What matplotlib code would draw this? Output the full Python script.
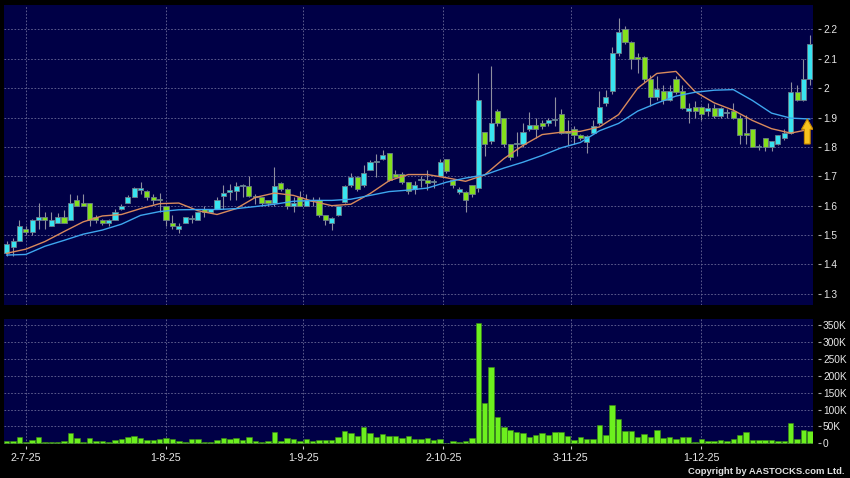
import numpy as np
import matplotlib
matplotlib.use("Agg")
import matplotlib.pyplot as plt
from matplotlib.patches import FancyArrow

# daily candles, late Jun 2025 -> late Dec 2025
opens = [1.44, 1.46, 1.48, 1.52, 1.51, 1.55, 1.56, 1.53, 1.54, 1.56,
         1.55, 1.62, 1.61, 1.61, 1.56, 1.55, 1.54, 1.55, 1.59, 1.61,
         1.63, 1.655, 1.65, 1.63, 1.622, 1.60, 1.54, 1.52, 1.54, 1.555,
         1.55, 1.59, 1.58, 1.59, 1.632, 1.648, 1.65, 1.668, 1.667, 1.632,
         1.63, 1.62, 1.61, 1.677, 1.658, 1.60, 1.63, 1.60, 1.62, 1.618,
         1.568, 1.54, 1.57, 1.612, 1.669, 1.698, 1.669, 1.72, 1.749, 1.76,
         1.78, 1.709, 1.709, 1.68, 1.658, 1.686, 1.686, 1.68, 1.70, 1.758,
         1.686, 1.647, 1.647, 1.669, 1.66, 1.85, 1.82, 1.922, 1.90, 1.809,
         1.81, 1.809, 1.861, 1.873, 1.881, 1.881, 1.892, 1.911, 1.85, 1.86,
         1.84, 1.818, 1.849, 1.88, 1.949, 1.99, 2.118, 2.20, 2.158, 2.107,
         2.107, 2.03, 1.97, 1.99, 1.96, 2.03, 1.99, 1.923, 1.937, 1.937,
         1.923, 1.932, 1.904, 1.915, 1.921, 1.90, 1.849, 1.86, 1.80, 1.83,
         1.80, 1.81, 1.83, 1.849, 1.988, 1.96, 2.03]
highs = [1.48, 1.49, 1.55, 1.53, 1.555, 1.61, 1.58, 1.58, 1.575, 1.585,
         1.64, 1.635, 1.64, 1.61, 1.57, 1.555, 1.555, 1.59, 1.605, 1.635,
         1.665, 1.68, 1.655, 1.64, 1.643, 1.60, 1.57, 1.54, 1.56, 1.57,
         1.58, 1.60, 1.59, 1.63, 1.67, 1.675, 1.68, 1.675, 1.70, 1.64,
         1.63, 1.62, 1.73, 1.68, 1.66, 1.63, 1.65, 1.64, 1.63, 1.63,
         1.57, 1.56, 1.60, 1.67, 1.71, 1.70, 1.74, 1.755, 1.777, 1.79,
         1.78, 1.72, 1.715, 1.68, 1.685, 1.70, 1.72, 1.69, 1.76, 1.758,
         1.69, 1.665, 1.65, 1.67, 2.05, 1.85, 2.074, 1.93, 1.90, 1.81,
         1.85, 1.88, 1.92, 1.90, 1.89, 1.90, 1.97, 1.93, 1.89, 1.87,
         1.845, 1.84, 1.89, 1.99, 1.995, 2.14, 2.24, 2.21, 2.16, 2.12,
         2.11, 2.045, 2.04, 2.01, 2.01, 2.04, 2.01, 1.95, 1.955, 1.94,
         1.95, 1.945, 1.935, 1.93, 1.95, 1.91, 1.91, 1.86, 1.81, 1.83,
         1.82, 1.84, 1.86, 2.02, 2.01, 2.10, 2.18]
lows = [1.43, 1.43, 1.48, 1.50, 1.50, 1.52, 1.52, 1.53, 1.54, 1.54,
        1.55, 1.60, 1.60, 1.53, 1.54, 1.535, 1.53, 1.55, 1.585, 1.61,
        1.63, 1.64, 1.62, 1.605, 1.58, 1.53, 1.52, 1.507, 1.54, 1.54,
        1.55, 1.56, 1.575, 1.59, 1.59, 1.62, 1.62, 1.63, 1.63, 1.605,
        1.60, 1.60, 1.60, 1.65, 1.59, 1.58, 1.60, 1.60, 1.60, 1.56,
        1.535, 1.518, 1.565, 1.61, 1.665, 1.65, 1.665, 1.72, 1.698, 1.755,
        1.685, 1.695, 1.675, 1.64, 1.64, 1.665, 1.655, 1.66, 1.70, 1.71,
        1.66, 1.64, 1.578, 1.63, 1.645, 1.77, 1.81, 1.87, 1.80, 1.755,
        1.77, 1.80, 1.855, 1.83, 1.86, 1.87, 1.87, 1.845, 1.807, 1.81,
        1.825, 1.78, 1.845, 1.875, 1.94, 1.98, 2.11, 2.15, 2.065, 2.05,
        2.02, 1.94, 1.96, 1.945, 1.955, 1.98, 1.93, 1.88, 1.90, 1.89,
        1.905, 1.90, 1.90, 1.90, 1.895, 1.81, 1.81, 1.80, 1.79, 1.785,
        1.785, 1.805, 1.825, 1.845, 1.955, 1.955, 2.01]
closes = [1.47, 1.48, 1.53, 1.51, 1.55, 1.56, 1.55, 1.55, 1.56, 1.54,
          1.61, 1.60, 1.60, 1.55, 1.55, 1.54, 1.55, 1.58, 1.60, 1.63,
          1.66, 1.66, 1.63, 1.62, 1.618, 1.55, 1.53, 1.53, 1.56, 1.558,
          1.58, 1.58, 1.59, 1.62, 1.643, 1.65, 1.667, 1.67, 1.632, 1.63,
          1.61, 1.61, 1.667, 1.658, 1.60, 1.61, 1.60, 1.618, 1.615, 1.57,
          1.55, 1.559, 1.598, 1.666, 1.698, 1.658, 1.711, 1.749, 1.75, 1.772,
          1.689, 1.698, 1.68, 1.65, 1.669, 1.687, 1.677, 1.681, 1.749, 1.718,
          1.669, 1.658, 1.62, 1.64, 1.96, 1.809, 1.88, 1.88, 1.809, 1.764,
          1.811, 1.85, 1.873, 1.861, 1.87, 1.892, 1.893, 1.849, 1.849, 1.841,
          1.83, 1.837, 1.87, 1.937, 1.969, 2.118, 2.19, 2.158, 2.10, 2.10,
          2.03, 1.97, 1.997, 1.96, 1.99, 1.988, 1.932, 1.932, 1.923, 1.913,
          1.932, 1.904, 1.932, 1.917, 1.90, 1.84, 1.841, 1.80, 1.801, 1.80,
          1.819, 1.839, 1.849, 1.988, 1.96, 2.03, 2.15]
volume_k = [7, 7, 19, 5, 10, 18, 5, 5, 4, 6,
            32, 17, 5, 16, 6, 6, 3, 10, 12, 20,
            22, 15, 10, 10, 14, 16, 12, 6, 5, 12,
            14, 4, 4, 11, 16, 12, 16, 10, 19, 7,
            4, 7, 34, 7, 15, 14, 6, 13, 7, 10,
            10, 11, 20, 37, 30, 22, 47, 30, 20, 27,
            22, 22, 16, 21, 14, 14, 15, 11, 13, 2,
            6, 3, 8, 16, 355, 120, 227, 77, 47, 38,
            33, 31, 20, 25, 32, 24, 33, 33, 23, 10,
            19, 14, 13, 55, 25, 112, 72, 36, 37, 19,
            28, 18, 39, 16, 20, 13, 19, 20, 5, 13,
            8, 8, 11, 7, 14, 26, 33, 9, 9, 9,
            10, 8, 8, 60, 14, 39, 37]

# moving averages, one value every 3rd session
ma_step = 3
ma_short = [1.438, 1.452, 1.478, 1.512, 1.545, 1.565, 1.570, 1.590, 1.607, 1.609,
            1.583, 1.570, 1.590, 1.628, 1.643, 1.635, 1.615, 1.600, 1.605, 1.641,
            1.685, 1.706, 1.706, 1.695, 1.683, 1.705, 1.760, 1.805, 1.842, 1.850,
            1.853, 1.868, 1.910, 2.000, 2.050, 2.057, 1.988, 1.950, 1.925, 1.890,
            1.862, 1.847, 1.860]
ma_long = [1.432, 1.434, 1.462, 1.482, 1.503, 1.517, 1.537, 1.567, 1.580, 1.586,
           1.587, 1.587, 1.590, 1.597, 1.605, 1.615, 1.618, 1.618, 1.622, 1.635,
           1.648, 1.653, 1.660, 1.680, 1.694, 1.705, 1.728, 1.748, 1.771, 1.797,
           1.815, 1.855, 1.880, 1.922, 1.949, 1.973, 1.986, 1.993, 1.995, 1.958,
           1.915, 1.898, 1.895]

date_labels = ["2-7-25", "1-8-25", "1-9-25", "2-10-25", "3-11-25", "1-12-25"]
date_pos = [3, 25, 46.5, 68.5, 88.5, 109]
price_ticks = [1.3, 1.4, 1.5, 1.6, 1.7, 1.8, 1.9, 2.0, 2.1, 2.2]
price_labels = ["1.3", "1.4", "1.5", "1.6", "1.7", "1.8", "1.9", "2", "2.1", "2.2"]
vol_ticks = [0, 50, 100, 150, 200, 250, 300, 350]
vol_labels = ["0", "50K", "100K", "150K", "200K", "250K", "300K", "350K"]

BG = "#000046"
UP = "#38e4f0"
DOWN = "#84e01c"
GRID = "#6a6a98"
TXT = "#e8e8e8"

plt.rcParams["font.family"] = ["Liberation Sans", "DejaVu Sans"]

fig = plt.figure(figsize=(8.5, 4.78), dpi=100, facecolor="black")
ax = fig.add_axes([4 / 850, 173 / 478, 809 / 850, 300 / 478], facecolor=BG)
axv = fig.add_axes([4 / 850, 34 / 478, 809 / 850, 125 / 478], facecolor=BG)

o = np.array(opens)
h = np.array(highs)
l = np.array(lows)
c = np.array(closes)
x = np.arange(len(c))
up = c >= o

# candles
ax.vlines(x, l, h, color="#8e8e9e", lw=0.8, zorder=2)
body = np.maximum(np.abs(c - o), 0.004)
ax.bar(x, body, bottom=np.minimum(o, c), width=0.8,
       color=np.where(up, UP, DOWN), edgecolor="#6c7c8a", linewidth=0.6, zorder=3)

mx = np.arange(0, len(c), ma_step)
ax.plot(mx[:len(ma_short)], ma_short, color="#d98a5c", lw=1.0, zorder=4)
ax.plot(mx[:len(ma_long)], ma_long, color="#3ea6ee", lw=1.0, zorder=4)

# gold arrow on the latest session
ax.add_patch(FancyArrow(len(c) - 1.4, 1.81, 0, 0.05, width=0.9, head_width=1.8,
                        head_length=0.035, length_includes_head=False,
                        fc="#f7c21e", ec="#c88a00", lw=0.8, zorder=5))

# volume
axv.bar(x, volume_k, width=0.86, color="#6cf01e", edgecolor="#3d8c12",
        linewidth=0.4, zorder=3)

for a in (ax, axv):
    a.set_xlim(-0.42, 126.5)
    a.grid(True, color=GRID, lw=0.6, ls=(0, (2, 2)), zorder=1)
    a.set_axisbelow(True)
    for s in ("top", "left", "bottom", "right"):
        a.spines[s].set_visible(False)
    a.spines["right"].set_position(("outward", 3.6))
    a.yaxis.tick_right()
    a.tick_params(axis="y", colors="#b0b0b0", labelcolor=TXT, length=2.2,
                  width=0.8, pad=1.4, labelsize=7.3, direction="out")
    a.set_xticks(date_pos)

ax.set_ylim(1.262, 2.283)
ax.set_yticks(price_ticks)
ax.set_yticklabels(price_labels)
ax.tick_params(axis="x", length=0, labelbottom=False)

axv.set_ylim(-2, 368)
axv.set_yticks(vol_ticks)
axv.set_yticklabels(vol_labels)
axv.yaxis.grid(True)
axv.spines["bottom"].set_position(("outward", 1.5))
axv.set_xticklabels(date_labels)
axv.tick_params(axis="x", colors="#c8c8c8", labelcolor=TXT, length=2.2,
                width=0.8, pad=3, labelsize=7.7, direction="out")

fig.text(845 / 850, 1 - 472 / 478, "Copyright by AASTOCKS.com Ltd.",
         color="#e0e0e0", fontsize=6.8, fontweight="bold", ha="right", va="center")

fig.savefig("out.png", dpi=100, facecolor="black")
